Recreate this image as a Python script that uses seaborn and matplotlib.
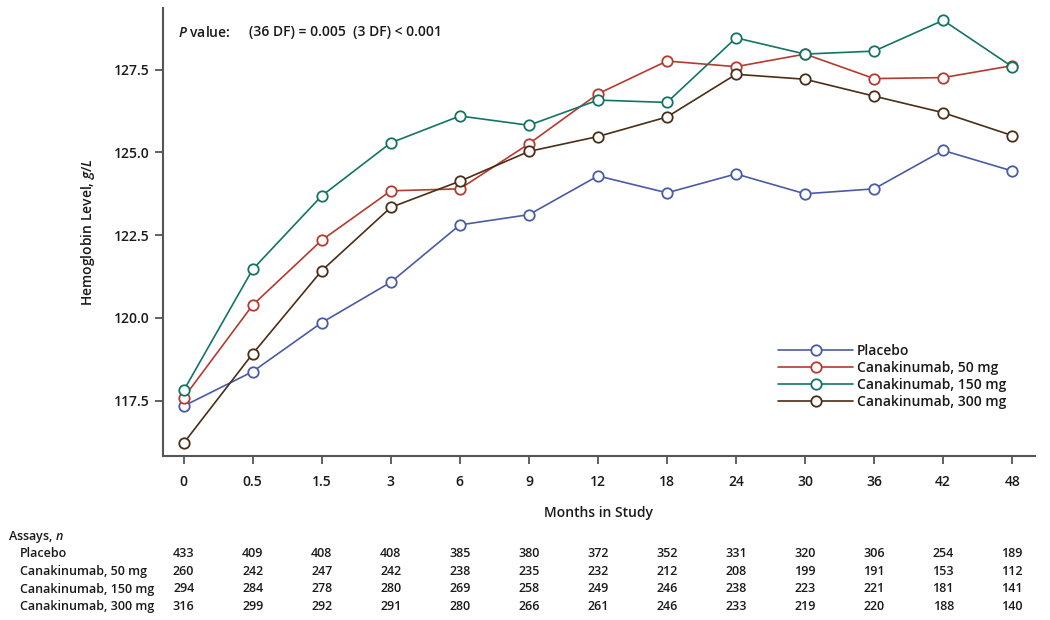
import matplotlib
matplotlib.use('Agg')
import matplotlib.pyplot as plt
import matplotlib.transforms as mtransforms
import pandas as pd
import seaborn as sns

# ---- data ----
MONTHS = ['0', '0.5', '1.5', '3', '6', '9', '12', '18', '24', '30', '36', '42', '48']
GROUPS = ['Placebo', 'Canakinumab, 50 mg', 'Canakinumab, 150 mg', 'Canakinumab, 300 mg']

placebo = [117.34, 118.38, 119.86, 121.08, 122.81, 123.12, 124.29, 123.78, 124.35, 123.75, 123.90, 125.06, 124.44]
cana_50 = [117.59, 120.39, 122.35, 123.84, 123.90, 125.26, 126.77, 127.76, 127.59, 127.97, 127.23, 127.26, 127.62]
cana_150 = [117.81, 121.47, 123.69, 125.29, 126.10, 125.82, 126.58, 126.51, 128.46, 127.97, 128.06, 128.99, 127.59]
cana_300 = [116.22, 118.92, 121.43, 123.34, 124.13, 125.03, 125.48, 126.07, 127.36, 127.21, 126.70, 126.20, 125.51]

assays_placebo = [433, 409, 408, 408, 385, 380, 372, 352, 331, 320, 306, 254, 189]
assays_50 = [260, 242, 247, 242, 238, 235, 232, 212, 208, 199, 191, 153, 112]
assays_150 = [294, 284, 278, 280, 269, 258, 249, 246, 238, 223, 221, 181, 141]
assays_300 = [316, 299, 292, 291, 280, 266, 261, 246, 233, 219, 220, 188, 140]

COLORS = ['#4a5ba6', '#b53a2f', '#137466', '#4b2e17']

levels = [placebo, cana_50, cana_150, cana_300]
assays = [assays_placebo, assays_50, assays_150, assays_300]

df = pd.DataFrame({
    'Months': MONTHS * len(GROUPS),
    'Group': [g for g in GROUPS for _ in MONTHS],
    'Hb': [v for s in levels for v in s],
})

sns.set_theme(style='ticks')
plt.rcParams['font.family'] = ['Open Sans', 'DejaVu Sans']
plt.rcParams['mathtext.fontset'] = 'custom'
plt.rcParams['mathtext.it'] = 'Open Sans:italic:semibold'
plt.rcParams['mathtext.rm'] = 'Open Sans:semibold'

FW = 'semibold'
TXT = '#1a1a1a'

fig = plt.figure(figsize=(10.5, 6.2), dpi=100)
ax = fig.add_axes([0.1552, 0.265, 0.8305, 0.722])

sns.lineplot(data=df, x='Months', y='Hb', hue='Group', hue_order=GROUPS,
             palette=COLORS, marker='o', markersize=7.5, linewidth=1.2,
             sort=False, legend=False, ax=ax)

# open circles, like the original
for line, c in zip(ax.lines, COLORS):
    line.set_markerfacecolor('white')
    line.set_markeredgecolor(c)
    line.set_markeredgewidth(1.3)

ax.set_xlim(-0.3, 12.33)
ax.set_ylim(115.84, 129.36)
ax.set_yticks([117.5, 120.0, 122.5, 125.0, 127.5])
ax.set_yticklabels(['117.5', '120.0', '122.5', '125.0', '127.5'])
ax.set_xticks(range(len(MONTHS)))
ax.set_xticklabels(MONTHS)

for s in ['top', 'right']:
    ax.spines[s].set_visible(False)
for s in ['left', 'bottom']:
    ax.spines[s].set_color('#555555')
    ax.spines[s].set_linewidth(1.5)
ax.tick_params(axis='both', colors='#555555', length=6, width=1.3,
               labelcolor=TXT, labelsize=10)
for lab in ax.get_xticklabels() + ax.get_yticklabels():
    lab.set_fontweight(FW)
ax.tick_params(axis='x', pad=8)

ax.set_xlabel('Months in Study', fontsize=10, fontweight=FW, color=TXT, labelpad=12)
ax.set_ylabel('Hemoglobin Level, $g/L$', fontsize=10, fontweight=FW, color=TXT, labelpad=12)

fig.text(0.1695, 0.948, '$P$ value:', fontsize=10, fontweight=FW, color=TXT, va='center')
fig.text(0.237, 0.948, '(36 DF) = 0.005  (3 DF) < 0.001', fontsize=10,
         fontweight=FW, color=TXT, va='center')

leg = ax.legend(handles=ax.lines[:4], labels=GROUPS, loc='upper left',
                bbox_to_anchor=(0.699, 0.263), frameon=False, fontsize=10,
                handlelength=5.4, labelspacing=0.22, handletextpad=0.3,
                borderaxespad=0)
for t in leg.get_texts():
    t.set_fontweight(FW)
    t.set_color(TXT)

# ---- assay counts table below the axis ----
trans = mtransforms.blended_transform_factory(ax.transData, fig.transFigure)
fig.text(0.008, 0.134, 'Assays, $n$', fontsize=9, fontweight=FW, color=TXT, va='center')
row_y = [0.107, 0.078, 0.050, 0.022]
for g, counts, y in zip(GROUPS, assays, row_y):
    fig.text(0.019, y, g, fontsize=9, fontweight=FW, color=TXT, va='center')
    for i, n in enumerate(counts):
        ax.text(i, y, str(n), transform=trans, fontsize=9, fontweight=FW,
                color=TXT, ha='center', va='center')

fig.savefig('out.png', dpi=100)
